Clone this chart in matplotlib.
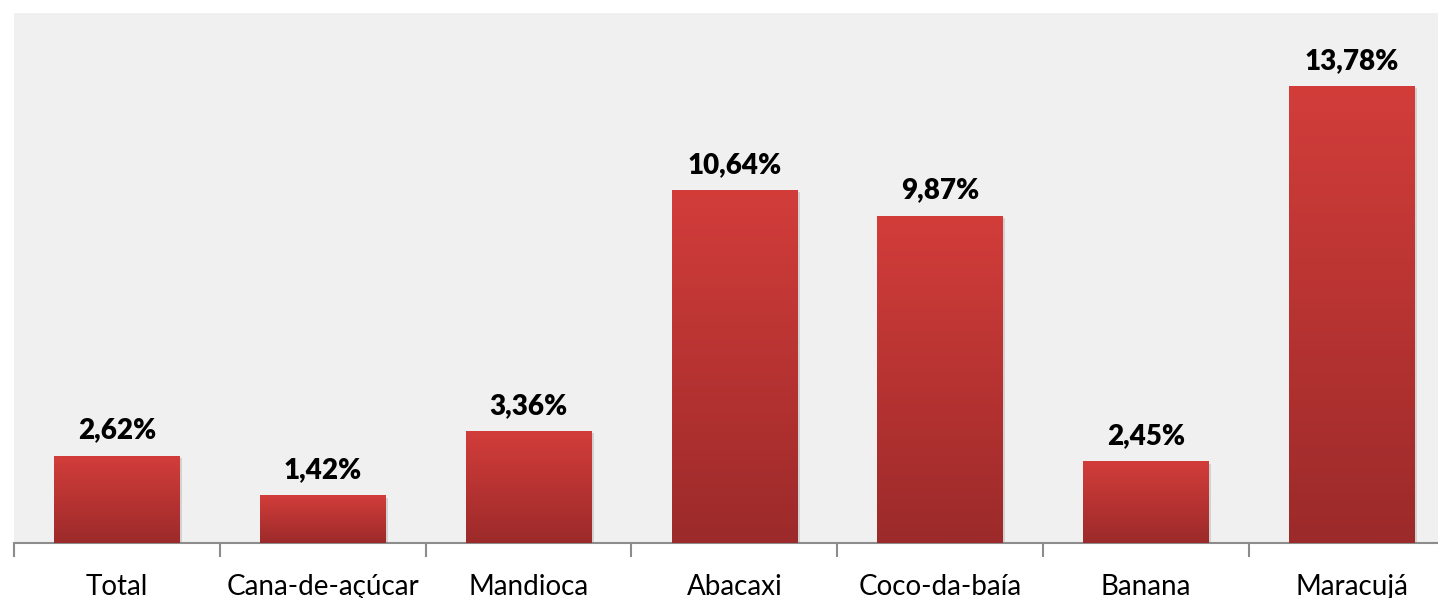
import numpy as np
import matplotlib
matplotlib.use('Agg')
from matplotlib import pyplot as plt

categories = ['Total', 'Cana-de-açúcar', 'Mandioca', 'Abacaxi', 'Coco-da-baía', 'Banana', 'Maracujá']
values = [2.62, 1.42, 3.36, 10.64, 9.87, 2.45, 13.78]
labels = ['2,62%', '1,42%', '3,36%', '10,64%', '9,87%', '2,45%', '13,78%']

plt.rcParams['font.family'] = ['Lato', 'DejaVu Sans']

fig = plt.figure(figsize=(14.38, 5.98), dpi=100)
W, H = 1438, 598
ax = fig.add_axes([14 / W, 55 / H, (W - 14) / W, (543 - 13) / H])
ax.set_facecolor('#f0f0f0')

x = np.arange(len(categories))
bars = ax.bar(x, values, width=0.61, color='none', zorder=3)

# vertical gradient fill for each bar
grad = np.linspace(0, 1, 256).reshape(-1, 1)
cmap = matplotlib.colors.LinearSegmentedColormap.from_list('red', ['#9c2a2a', '#d23d3a'])
for b in bars:
    x0, w, h = b.get_x(), b.get_width(), b.get_height()
    # soft shadow
    ax.add_patch(plt.Rectangle((x0 + 0.012, -0.05), w, h, color='#000000', alpha=0.12, zorder=2, lw=0))
    ax.imshow(grad, cmap=cmap, origin='lower', aspect='auto',
              extent=(x0, x0 + w, 0, h), zorder=3)

for xi, v, lab in zip(x, values, labels):
    ax.text(xi, v + 0.38, lab, ha='center', va='bottom', fontsize=20, fontweight='heavy', color='#000000')

ax.set_yticks([])
ax.set_xticks(x)
ax.set_xticklabels(categories, fontsize=20, color='#000000')
ax.set_xticks(np.arange(-0.5, len(categories)), minor=True)
ax.tick_params(axis='x', which='major', length=0, pad=22)
ax.tick_params(axis='x', which='minor', length=10, width=1.5, color='#8c8c8c')
# limits after ticks, otherwise set_xticks widens the view
ax.set_xlim(-0.5, -0.5 + (W - 14) / 205.8)
ax.set_ylim(0, 16)
for s in ['top', 'right', 'left']:
    ax.spines[s].set_visible(False)
ax.spines['bottom'].set_color('#8c8c8c')
ax.spines['bottom'].set_linewidth(1.5)

fig.savefig('out.png', dpi=100)
